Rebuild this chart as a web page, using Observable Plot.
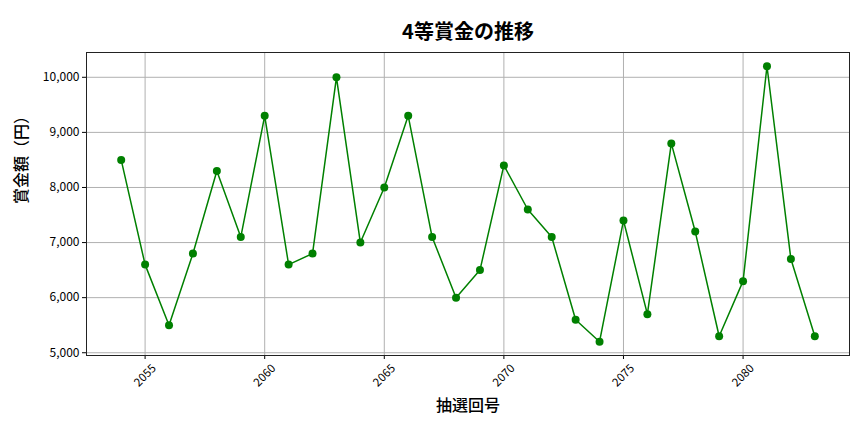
<!DOCTYPE html>
<html>
<head>
<meta charset="utf-8">
<script src="https://cdn.jsdelivr.net/npm/d3@7"></script>
<script src="https://cdn.jsdelivr.net/npm/@observablehq/plot@0.6"></script>
<style>
  html, body { margin: 0; padding: 0; background: #fff; }
  #chart svg { display: block; }
</style>
</head>
<body>
<div id="chart"></div>
<script>
const draws = [2054,2055,2056,2057,2058,2059,2060,2061,2062,2063,2064,2065,2066,2067,2068,2069,2070,2071,2072,2073,2074,2075,2076,2077,2078,2079,2080,2081,2082,2083];
const prizes = [8500,6600,5500,6800,8300,7100,9300,6600,6800,10000,7000,8000,9300,7100,6000,6500,8400,7600,7100,5600,5200,7400,5700,8800,7200,5300,6300,10200,6700,5300];
const xTicks = [2055,2060,2065,2070,2075,2080];
const yTicks = [5000,6000,7000,8000,9000,10000];
const title = "4等賞金の推移";
const xLabel = "抽選回号";
const yLabel = "賞金額（円）";

const data = draws.map((d, i) => ({draw: d, prize: prizes[i]}));
const font = "'Noto Sans CJK JP', 'Noto Sans', sans-serif";

const chart = Plot.plot({
  width: 864,
  height: 432,
  marginLeft: 86,
  marginRight: 15,
  marginTop: 52,
  marginBottom: 77,
  style: {fontFamily: font, fontSize: "12px", color: "#000", background: "#fff"},
  x: {domain: [2052.55, 2084.45], label: null},
  y: {domain: [4950, 10450], label: null},
  marks: [
    Plot.gridX(xTicks, {stroke: "#b0b0b0", strokeOpacity: 1, strokeWidth: 1}),
    Plot.gridY(yTicks, {stroke: "#b0b0b0", strokeOpacity: 1, strokeWidth: 1}),
    Plot.axisY(yTicks, {tickSize: 4, tickPadding: 3, tickFormat: d3.format(","), fontSize: 12, label: null, stroke: "#000"}),
    Plot.axisX(xTicks, {tickSize: 4, tickFormat: () => "", label: null, stroke: "#000"}),
    Plot.text(xTicks, {x: d => d, frameAnchor: "bottom", dy: 20, rotate: -45, textAnchor: "middle", lineAnchor: "middle", fontSize: 11.5, text: d => String(d)}),
    Plot.line(data, {x: "draw", y: "prize", stroke: "#008000", strokeWidth: 1.5}),
    Plot.dot(data, {x: "draw", y: "prize", r: 4, fill: "#008000", stroke: "none"}),
    Plot.frame({stroke: "#222", strokeWidth: 1}),
    Plot.text([title], {frameAnchor: "top", dy: -28, fontSize: 20, fontWeight: "bold", text: d => d}),
    Plot.text([xLabel], {frameAnchor: "bottom", dy: 55, fontSize: 16, fontWeight: 500, text: d => d}),
    Plot.text([yLabel], {frameAnchor: "left", dx: -65, rotate: -90, fontSize: 16, fontWeight: 500, text: d => d})
  ]
});
document.getElementById("chart").appendChild(chart);
</script>
</body>
</html>
